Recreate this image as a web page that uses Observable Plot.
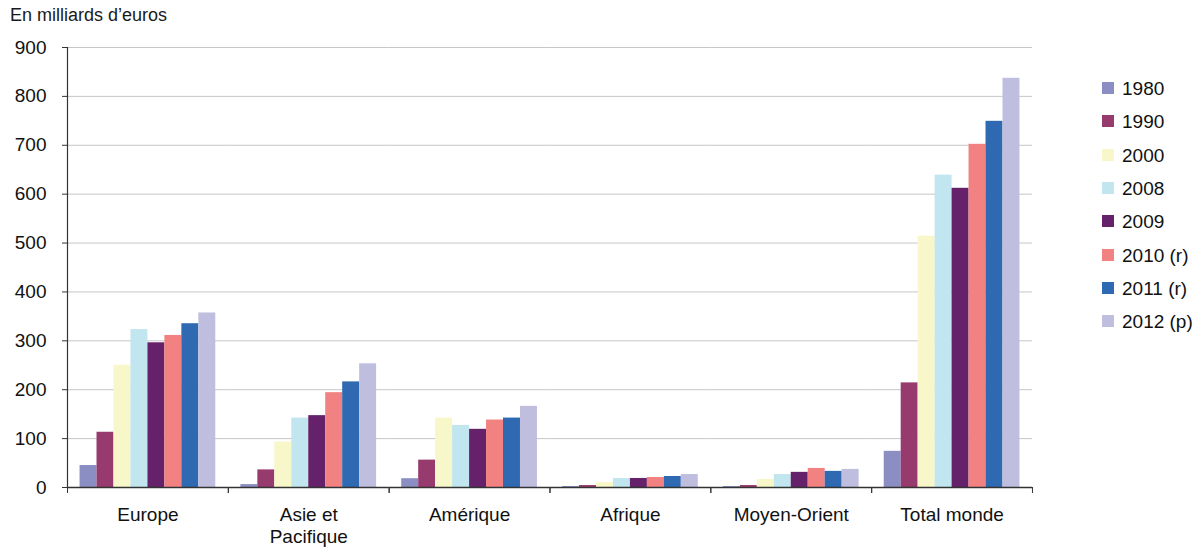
<!DOCTYPE html>
<html>
<head>
<meta charset="utf-8">
<script src="https://cdn.jsdelivr.net/npm/d3@7"></script>
<script src="https://cdn.jsdelivr.net/npm/@observablehq/plot@0.6"></script>
<style>
  html, body { margin: 0; padding: 0; background: #fff; }
  body { width: 1200px; height: 548px; position: relative; overflow: hidden; font-family: "Liberation Sans", Arial, sans-serif; }
  #title { height: 30px; position: relative; }
  #title span { position: absolute; left: 10px; top: 5px; font-size: 18px; line-height: 21px; color: #1a1a1a; white-space: nowrap; }
  #legend { position: absolute; left: 1102px; top: 72.5px; }
  .item { height: 33.3px; display: flex; align-items: center; font-size: 19px; color: #111; position: relative; }
  .sw { width: 12px; height: 12px; margin-right: 8px; position: relative; top: -1px; }
  #chart svg { overflow: visible; }
</style>
</head>
<body>
<div id="title"><span>En milliards d’euros</span></div>
<div id="chart"></div>
<div id="legend"></div>
<script>
const categories = ["Europe", "Asie et\nPacifique", "Amérique", "Afrique", "Moyen-Orient", "Total monde"];
const years = ["1980", "1990", "2000", "2008", "2009", "2010 (r)", "2011 (r)", "2012 (p)"];
const colors = ["#8b8ec3", "#973a6d", "#f8f7c9", "#c1e6ef", "#65226a", "#f28182", "#2e69b2", "#bfbedf"];
const yTicks = [0, 100, 200, 300, 400, 500, 600, 700, 800, 900];

const europe       = [45, 113, 250, 323, 296, 311, 335, 357];
const asie         = [6, 36, 93, 142, 147, 194, 216, 253];
const amerique     = [18, 56, 142, 127, 119, 138, 142, 166];
const afrique      = [2, 4, 10, 18.5, 18.5, 20.5, 22.5, 26.5];
const moyenOrient  = [2, 4, 16.5, 26.5, 31, 39, 33, 37];
const totalMonde   = [74, 214, 514, 639, 612, 702, 749, 837];

const series = [europe, asie, amerique, afrique, moyenOrient, totalMonde];
const data = [];
categories.forEach((c, i) => years.forEach((y, j) => data.push({category: c, year: y, value: series[i][j]})));

const plot = Plot.plot({
  width: 1200,
  height: 518,
  marginTop: 17,
  marginBottom: 61,
  marginLeft: 67,
  marginRight: 168,
  style: {fontFamily: "'Liberation Sans', Arial, sans-serif", fontSize: "19px", color: "#111"},
  fx: {domain: categories, padding: 0, round: false, label: null},
  x: {domain: years, paddingInner: 0, paddingOuter: 0.74, round: false, axis: null},
  y: {domain: [0, 900], label: null},
  color: {domain: years, range: colors},
  marks: [
    Plot.gridY(yTicks, {stroke: "#c6c6c6", strokeOpacity: 1, strokeWidth: 1}),
    Plot.barY(data, {fx: "category", x: "year", y: "value", fill: "year"}),
    Plot.ruleY([0], {stroke: "#333", strokeWidth: 1.5}),
    Plot.frame({anchor: "left", stroke: "#333", strokeWidth: 1.2, facetAnchor: "left"}),
    Plot.axisY(yTicks, {tickSize: 5, tickPadding: 16, stroke: "#333", label: null, tickFormat: d => d}),
    Plot.axisFx({anchor: "bottom", tickSize: 0, tickPadding: 17, lineHeight: 1.2, label: null}),
    Plot.axisFx({anchor: "bottom", tickSize: 6, text: null, dx: -80.4, stroke: "#333", label: null}),
    Plot.axisFx(["Total monde"], {anchor: "bottom", tickSize: 6, text: null, dx: 80.4, stroke: "#333", label: null})
  ]
});
document.getElementById("chart").appendChild(plot);

const cs = plot.scale("color");
const legend = document.getElementById("legend");
cs.domain.forEach((d, i) => {
  const item = document.createElement("div");
  item.className = "item";
  const sw = document.createElement("div");
  sw.className = "sw";
  sw.style.background = cs.range[i];
  item.appendChild(sw);
  const t = document.createElement("span");
  t.textContent = d;
  item.appendChild(t);
  legend.appendChild(item);
});
</script>
</body>
</html>
